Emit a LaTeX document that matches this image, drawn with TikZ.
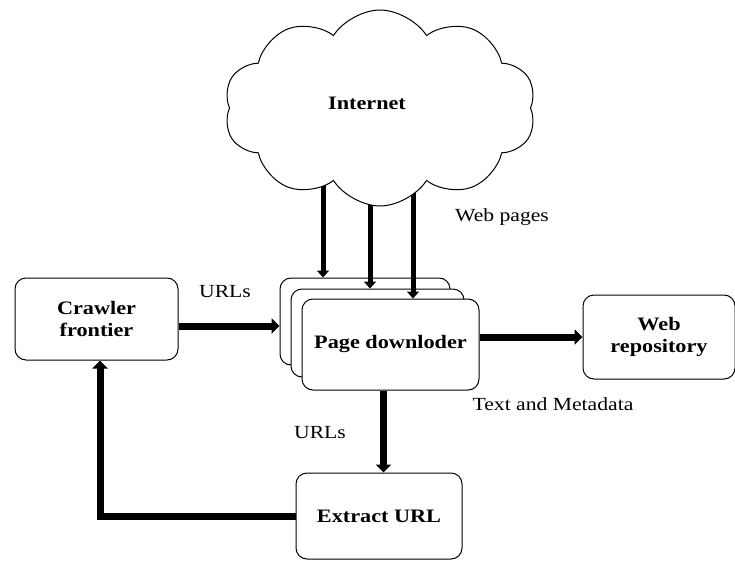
\documentclass[tikz,border=0pt]{standalone}
\usepackage{fontspec}
\setmainfont{Liberation Serif}[FakeStretch=1.17]
\usetikzlibrary{shapes.symbols,arrows.meta}
\begin{document}
\begin{tikzpicture}[x=1pt,y=-1pt,
  box/.style={draw,line width=1pt,rounded corners=11pt,fill=white,align=center,
    font=\fontsize{19}{22}\selectfont\bfseries},
  lbl/.style={font=\fontsize{18.5}{21}\selectfont},
  arr/.style={line width=7pt,-{Triangle[length=8pt,width=15pt]}},
  carr/.style={line width=5pt,-{Triangle[length=7pt,width=12pt]}}]
\useasboundingbox (0,0) rectangle (735,561);
% boxes
\node[box,minimum width=163pt,minimum height=82pt] (crawler) at (96.5,319) {Crawler\\frontier};
\node[box,minimum width=170pt,minimum height=87pt] (back) at (365,321.5) {};
\node[box,minimum width=173pt,minimum height=88pt] (mid) at (377.5,333) {};
\node[box,minimum width=177pt,minimum height=91pt] (front) at (390.5,344.5) {Page downloder};
\node[box,minimum width=152pt,minimum height=84pt] (web) at (659,337) {Web\\repository};
\node[box,minimum width=166pt,minimum height=86pt] (extract) at (379,516) {Extract URL};
% cloud arrows
\coordinate (c1) at (323,170);
\coordinate (c2) at (370,170);
\coordinate (c3) at (413,170);
\draw[carr] (c1) -- (c1 |- back.north);
\draw[carr] (c2) -- (c2 |- mid.north);
\draw[carr] (c3) -- (c3 |- front.north);
\node[cloud,draw,line width=1pt,fill=white,cloud puffs=10,cloud puff arc=115,aspect=1.6,
  minimum width=312pt,minimum height=196pt] (net) at (380,108) {};
\node[font=\fontsize{19}{22}\selectfont\bfseries] (netlbl) at (367,103) {Internet};
% other arrows
\draw[arr] ([yshift=-7pt]crawler.east) -- ([yshift=-7pt]crawler.east -| back.west);
\draw[arr] (front.east |- web.west) -- (web.west);
\draw[arr] ([xshift=-7pt]front.south) -- ([xshift=-7pt]front.south |- extract.north);
\draw[arr] (extract.west) -| ([xshift=3.5pt]crawler.south);
% labels
\node[lbl] (l1) at (225,292) {URLs};
\node[lbl] (l2) at (502,217) {Web pages};
\node[lbl] (l3) at (553,404) {Text and Metadata};
\node[lbl] (l4) at (320,433) {URLs};
\end{tikzpicture}
\end{document}
